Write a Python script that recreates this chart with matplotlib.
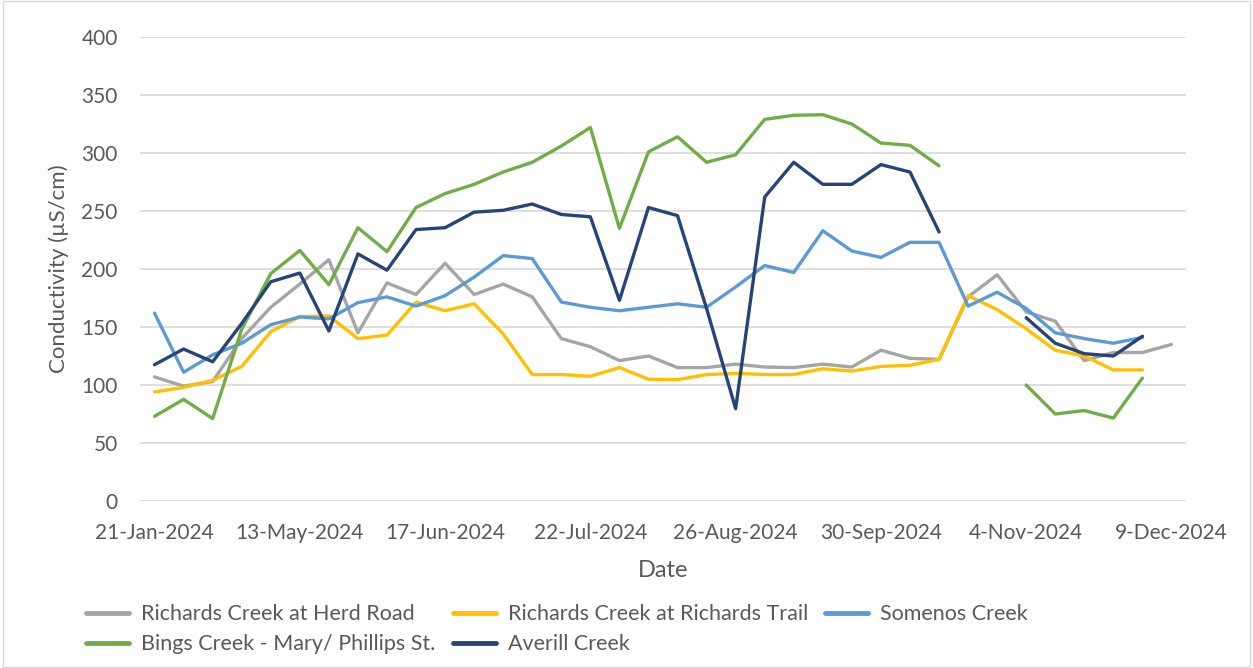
import matplotlib.pyplot as plt
import numpy as np
from matplotlib.patches import Rectangle

nan = np.nan

# sample dates (category axis, one label every 5th)
dates = ["21-Jan-2024", "15-Apr-2024", "22-Apr-2024", "29-Apr-2024", "6-May-2024",
         "13-May-2024", "20-May-2024", "27-May-2024", "3-Jun-2024", "10-Jun-2024",
         "17-Jun-2024", "24-Jun-2024", "1-Jul-2024", "8-Jul-2024", "15-Jul-2024",
         "22-Jul-2024", "29-Jul-2024", "5-Aug-2024", "12-Aug-2024", "19-Aug-2024",
         "26-Aug-2024", "2-Sep-2024", "9-Sep-2024", "16-Sep-2024", "23-Sep-2024",
         "30-Sep-2024", "7-Oct-2024", "14-Oct-2024", "21-Oct-2024", "28-Oct-2024",
         "4-Nov-2024", "11-Nov-2024", "18-Nov-2024", "25-Nov-2024", "2-Dec-2024",
         "9-Dec-2024"]

herd_road = [107, 99, 103, 140, 167, 187, 208, 145, 188, 178,
             205, 178, 187, 176, 140, 133, 121, 125, 115, 115,
             118, 115.5, 115, 118, 115.5, 130, 123, 122, 176, 195,
             163, 155, 121, 128, 128, 135]

richards_trail = [94, 98, 104, 116, 146, 159, 159.5, 140, 143, 171.5,
                  164, 170, 144, 109, 109, 107.5, 115, 105, 104.6, 109,
                  110, 109, 109, 114, 112, 116, 117, 122, 177, 165,
                  148.5, 130, 125, 113, 113, nan]

somenos = [162, 111, 126, 136, 152, 158.6, 157, 171, 176, 168,
           177, 193, 211.5, 209, 171.5, 167, 164, 167, 170, 167,
           184.5, 203, 197, 233, 215.5, 210, 223, 223, 168, 180,
           166, 145, 140, 136, 141, nan]

bings = [73, 87.6, 71, 148, 196, 216, 186.5, 235.6, 215, 253,
         265, 273, 283.6, 292, 306, 322, 235, 301, 314, 292,
         298.5, 329, 332.5, 333, 325, 308.6, 306.6, 289, nan, nan,
         100, 75, 78, 71.5, 106, nan]

averill = [117.5, 131, 120, 153, 189, 196.5, 146.6, 213, 199, 234,
           235.6, 249, 250.6, 256, 247, 245, 173, 253, 246, 166,
           79.6, 262, 292, 273, 273, 290, 283.6, 232, nan, nan,
           158, 136, 127, 125, 142, nan]

series = [
    ("Richards Creek at Herd Road", herd_road, "#A5A5A5"),
    ("Richards Creek at Richards Trail", richards_trail, "#FFC000"),
    ("Somenos Creek", somenos, "#5B9BD5"),
    ("Bings Creek - Mary/ Phillips St.", bings, "#70AD47"),
    ("Averill Creek", averill, "#264478"),
]

plt.rcParams['font.family'] = ['Lato', 'DejaVu Sans']
text_col = "#595959"

fig = plt.figure(figsize=(12.53, 6.68), dpi=100)
ax = fig.add_axes([140/1253, 1 - 501/668, (1186 - 140)/1253, (501 - 37)/668])

x = np.arange(len(dates))
lines = {}
for name, vals, col in series:
    ln, = ax.plot(x, np.array(vals, dtype=float), color=col, lw=2.4,
                  solid_joinstyle='round', solid_capstyle='round', label=name)
    lines[name] = ln

ax.set_xlim(-0.5, len(dates) - 0.5)
ax.set_ylim(0, 400)
ax.set_yticks(np.arange(0, 401, 50))
ax.set_xticks(x[::5])
ax.set_xticklabels(dates[::5])
ax.grid(axis='y', color="#D9D9D9", lw=1.2)
ax.set_axisbelow(True)
for s in ax.spines.values():
    s.set_visible(False)
ax.tick_params(axis='both', length=0, labelsize=15, colors=text_col)
ax.tick_params(axis='y', pad=16)
ax.tick_params(axis='x', pad=16)

ax.set_xlabel("Date", fontsize=17, color=text_col, labelpad=12)
ax.set_ylabel("Conductivity (µS/cm)", fontsize=16, color=text_col, labelpad=9)

order = ["Richards Creek at Herd Road", "Bings Creek - Mary/ Phillips St.",
         "Richards Creek at Richards Trail", "Averill Creek", "Somenos Creek"]
leg = fig.legend([lines[n] for n in order], order, ncol=3, loc='upper left',
                 bbox_to_anchor=(67/1253, 1 - 585/668), frameon=False,
                 fontsize=15.5, handlelength=2.0, columnspacing=0.8,
                 handletextpad=0.55, labelspacing=0.45, labelcolor=text_col)
for h in leg.get_lines():
    h.set_linewidth(3.5)

fig.patches.append(Rectangle((0.002, 0.002), 0.996, 0.996, transform=fig.transFigure,
                             fill=False, edgecolor="#D9D9D9", lw=1))

fig.savefig("out.png", dpi=100)
